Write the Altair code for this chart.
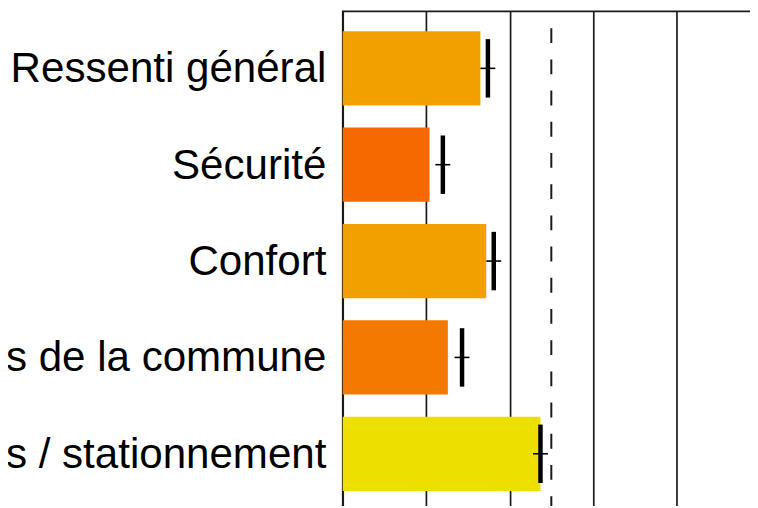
import altair as alt
import pandas as pd

categories = ["Ressenti général", "Sécurité", "Confort",
              "Efforts de la commune", "Services / stationnement"]
scores = [2.65, 2.04, 2.72, 2.26, 3.37]
markers = [2.74, 2.20, 2.81, 2.43, 3.37]
colors = ["#F29F00", "#F66800", "#F29F00", "#F47900", "#EDE000"]
x_grid = [1, 2, 3, 4, 5, 6]
reference_line = [3.5]

df = pd.DataFrame({"cat": categories, "score": scores,
                   "marker": markers, "color": colors})
ref_df = pd.DataFrame({"ref": reference_line})

step = 97.3
n = len(categories)
p_in = 0.229
p_out = 0.2055
view_h = step * (n - p_in + 2 * p_out)

y_enc = alt.Y("cat:N", sort=categories, title=None,
              scale=alt.Scale(paddingInner=p_in, paddingOuter=p_out),
              axis=alt.Axis(domain=False, ticks=False, grid=False,
                            labelFont="Liberation Sans",
                            labelFontSize=42.5, labelColor="#000000",
                            labelPadding=17, labelLimit=0,
                            labelBaseline="alphabetic", labelOffset=14))
x_scale = alt.Scale(domain=[1, 6], nice=False, zero=False)
x_axis = alt.Axis(values=x_grid, grid=True, gridColor="#1a1a1a",
                  gridWidth=1.7, gridOpacity=1, labels=False, ticks=False,
                  domain=False, title=None)

bars = alt.Chart(df).mark_bar().encode(
    y=y_enc,
    x=alt.X("score:Q", scale=x_scale, axis=x_axis),
    x2=alt.datum(1),
    color=alt.Color("color:N", scale=None),
)

vticks = alt.Chart(df).mark_tick(color="#000000", thickness=4.5, size=59,
                                 opacity=1).encode(
    y=alt.Y("cat:N", sort=categories),
    x=alt.X("marker:Q"),
)

hticks = alt.Chart(df).mark_tick(color="#000000", thickness=1.6, size=15,
                                 orient="horizontal", opacity=1).encode(
    y=alt.Y("cat:N", sort=categories),
    x=alt.X("marker:Q"),
)

ref = alt.Chart(ref_df).mark_rule(color="#1a1a1a", strokeWidth=2,
                                  strokeDash=[15, 16.5],
                                  strokeDashOffset=14.5).encode(
    x=alt.X("ref:Q")
)

chart = alt.layer(ref, bars, hticks, vticks).properties(
    width=421.25, height=view_h,
    autosize=alt.AutoSizeParams(type="none"),
    padding={"left": 338, "top": 1, "right": -10, "bottom": -7},
    background="#ffffff",
).configure_view(
    stroke="#1a1a1a", strokeWidth=1.7
)

chart.save("out.html", embed_options={"renderer": "svg", "actions": False})
